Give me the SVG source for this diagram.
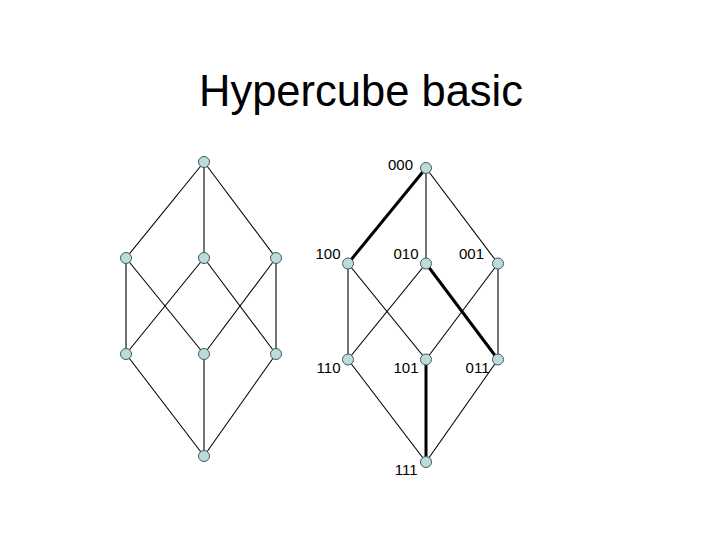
<svg xmlns="http://www.w3.org/2000/svg" width="720" height="540" viewBox="0 0 720 540">
  <style>
    .edge { stroke: #000; stroke-width: 1.1; fill: none; }
    .bold { stroke: #000; stroke-width: 3; fill: none; }
    .node { fill: #bcdcdc; stroke: #405e5e; stroke-width: 1; }
    .lbl { font-family: "Liberation Sans", Arial, sans-serif; font-size: 15px; fill: #000; text-anchor: end; }
    .title { font-family: "Liberation Sans", Arial, sans-serif; font-size: 43.5px; fill: #000; text-anchor: middle; }
  </style>
  <rect width="720" height="540" fill="#fff"/>
  <text class="title" x="361" y="106">Hypercube basic</text>

  <g id="connectors">
    <!-- left graph -->
    <line class="edge" x1="204" y1="162" x2="126" y2="258"/>
    <line class="edge" x1="204" y1="162" x2="204" y2="258"/>
    <line class="edge" x1="204" y1="162" x2="276" y2="258"/>
    <line class="edge" x1="126" y1="258" x2="126" y2="354"/>
    <line class="edge" x1="126" y1="258" x2="204" y2="354"/>
    <line class="edge" x1="204" y1="258" x2="126" y2="354"/>
    <line class="edge" x1="204" y1="258" x2="276" y2="354"/>
    <line class="edge" x1="276" y1="258" x2="204" y2="354"/>
    <line class="edge" x1="276" y1="258" x2="276" y2="354"/>
    <line class="edge" x1="126" y1="354" x2="204" y2="456"/>
    <line class="edge" x1="204" y1="354" x2="204" y2="456"/>
    <line class="edge" x1="276" y1="354" x2="204" y2="456"/>
    <!-- right graph -->
    <line class="bold" x1="426" y1="168" x2="348" y2="263.5"/>
    <line class="edge" x1="426" y1="168" x2="426" y2="263.5"/>
    <line class="edge" x1="426" y1="168" x2="498" y2="263.5"/>
    <line class="edge" x1="348" y1="263.5" x2="348" y2="359.5"/>
    <line class="edge" x1="348" y1="263.5" x2="426" y2="359.5"/>
    <line class="edge" x1="426" y1="263.5" x2="348" y2="359.5"/>
    <line class="bold" x1="426" y1="263.5" x2="498" y2="359.5"/>
    <line class="edge" x1="498" y1="263.5" x2="426" y2="359.5"/>
    <line class="edge" x1="498" y1="263.5" x2="498" y2="359.5"/>
    <line class="edge" x1="348" y1="359.5" x2="426" y2="462"/>
    <line class="bold" x1="426" y1="359.5" x2="426" y2="462"/>
    <line class="edge" x1="498" y1="359.5" x2="426" y2="462"/>
  </g>

  <!-- left graph nodes -->
  <g id="L0"><circle class="node" cx="204" cy="162" r="5.5"/></g>
  <g id="L1a"><circle class="node" cx="126" cy="258" r="5.5"/></g>
  <g id="L1b"><circle class="node" cx="204" cy="258" r="5.5"/></g>
  <g id="L1c"><circle class="node" cx="276" cy="258" r="5.5"/></g>
  <g id="L2a"><circle class="node" cx="126" cy="354" r="5.5"/></g>
  <g id="L2b"><circle class="node" cx="204" cy="354" r="5.5"/></g>
  <g id="L2c"><circle class="node" cx="276" cy="354" r="5.5"/></g>
  <g id="L3"><circle class="node" cx="204" cy="456" r="5.5"/></g>

  <!-- right graph nodes -->
  <g id="n000"><circle class="node" cx="426" cy="168" r="5.5"/><text class="lbl" x="413" y="169.5">000</text></g>
  <g id="n100"><circle class="node" cx="348" cy="263.5" r="5.5"/><text class="lbl" x="340.5" y="259">100</text></g>
  <g id="n010"><circle class="node" cx="426" cy="263.5" r="5.5"/><text class="lbl" x="418.5" y="259">010</text></g>
  <g id="n001"><circle class="node" cx="498" cy="263.5" r="5.5"/><text class="lbl" x="484" y="259">001</text></g>
  <g id="n110"><circle class="node" cx="348" cy="359.5" r="5.5"/><text class="lbl" x="340.5" y="373">110</text></g>
  <g id="n101"><circle class="node" cx="426" cy="359.5" r="5.5"/><text class="lbl" x="418.5" y="373">101</text></g>
  <g id="n011"><circle class="node" cx="498" cy="359.5" r="5.5"/><text class="lbl" x="489.5" y="373">011</text></g>
  <g id="n111"><circle class="node" cx="426" cy="462" r="5.5"/><text class="lbl" x="417.5" y="475">111</text></g>
</svg>
